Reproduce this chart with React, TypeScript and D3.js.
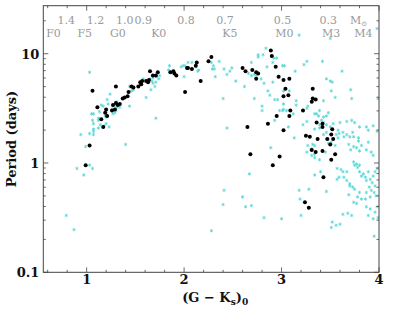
import React from "react";
import * as d3 from "d3";

// (G-Ks)_0 colour, log10 period in days
const blackStars: [number, number][] = [
  [0.99, -0.02], [1.03, 0.16], [1.06, 0.66], [1.11, 0.51], [1.15, 0.4], [1.17, 0.33],
  [1.19, 0.46], [1.2, 0.49], [1.21, 0.43], [1.26, 0.48], [1.27, 0.53], [1.29, 0.49],
  [1.3, 0.55], [1.3, 0.7], [1.32, 0.53], [1.34, 0.54], [1.37, 0.59], [1.39, 0.6],
  [1.42, 0.61], [1.43, 0.65], [1.46, 0.7], [1.48, 0.69], [1.53, 0.7], [1.55, 0.74],
  [1.56, 0.72], [1.57, 0.75], [1.61, 0.75], [1.63, 0.74], [1.64, 0.76], [1.65, 0.84],
  [1.68, 0.8], [1.71, 0.8], [1.73, 0.83], [1.86, 0.83], [1.89, 0.84], [1.9, 0.82],
  [1.92, 0.8], [2.01, 0.65], [2.03, 0.87], [2.04, 0.87], [2.08, 0.86], [2.12, 0.89],
  [2.13, 0.92], [2.17, 0.75], [2.25, 0.93], [2.28, 0.97], [2.6, 0.87], [2.63, 0.84],
  [2.65, 0.33], [2.68, 0.08], [2.7, 0.85], [2.74, 0.83], [2.76, 0.82], [2.74, 0.77],
  [2.86, 0.36], [2.89, 1.03], [2.9, 0.98], [2.91, -0.02], [2.94, 0.88], [2.95, 0.43],
  [2.97, 0.79], [2.98, 0.06], [3.02, 0.3], [3.02, 0.76], [3.08, 0.77], [3.04, 0.68],
  [3.02, 0.61], [3.07, 0.62], [3.08, 0.43], [3.09, 0.48], [3.22, 0.48], [3.32, 0.68],
  [3.32, 0.59], [3.35, 0.58], [3.31, 0.56], [3.36, 0.37], [3.42, 0.36], [3.42, 0.33],
  [3.52, 0.31], [3.25, 0.25], [3.29, 0.24], [3.37, 0.22], [3.47, 0.22], [3.51, 0.26],
  [3.53, 0.22], [3.5, 0.17], [3.31, 0.12], [3.35, 0.1], [3.42, 0.11], [3.55, 0.08],
  [3.51, 0.03], [3.43, -0.13], [3.24, -0.36], [3.28, -0.41],
];

const cyanStars: [number, number][] = [
  [0.79, -0.48], [0.87, -0.61], [0.9, -0.05], [0.97, -0.11], [1.03, -0.02], [1.06, -0.05],
  [0.94, 0.26], [0.99, 0.15], [1.03, 0.27], [1.07, 0.26], [1.07, 0.31], [1.03, 0.83],
  [1.05, 0.45], [1.12, 0.41], [1.07, 0.36], [1.14, 0.35], [1.07, 0.45], [1.06, 0.39],
  [1.12, 0.39], [1.13, 0.47], [1.12, 0.32], [1.18, 0.34], [1.2, 0.36], [1.23, 0.33],
  [1.07, 0.29], [1.15, 0.53], [1.17, 0.52], [1.2, 0.46], [1.19, 0.43], [1.2, 0.42],
  [1.21, 0.58], [1.22, 0.54], [1.24, 0.63], [1.26, 0.49], [1.31, 0.56], [1.29, 0.53],
  [1.31, 0.51], [1.34, 0.51], [1.3, 0.48], [1.27, 0.45], [1.29, 0.46], [1.27, 0.52],
  [1.44, 0.52], [1.4, 0.17], [1.44, 0.7], [1.48, 0.67], [1.46, 0.66], [1.56, 0.74],
  [1.58, 0.77], [1.61, 0.6], [1.66, 0.67], [1.65, 0.77], [1.67, 0.75], [1.68, 0.78],
  [1.71, 0.74], [1.68, 0.73], [1.72, 0.79], [1.74, 0.77], [1.75, 0.8], [1.7, 0.7],
  [1.71, 0.41], [1.85, 0.89], [1.84, 0.85], [1.85, 0.83], [1.97, 0.88], [1.99, 0.89],
  [2.04, 0.92], [2.08, 0.92], [2.12, 0.88], [2.14, 0.84], [2.0, 0.79], [2.01, 0.89],
  [2.15, 0.85], [2.28, 0.92], [2.3, 0.89], [2.29, 0.86], [2.31, 0.86], [2.36, 0.93],
  [2.41, 0.86], [2.44, 0.81], [2.32, 0.79], [2.4, 0.59], [2.44, 0.32], [2.49, 0.87],
  [2.47, 0.84], [2.53, 0.75], [2.62, 0.7], [2.69, 0.92], [2.66, 0.82], [2.69, 0.8],
  [2.72, 0.81], [2.74, 0.8], [2.76, 0.99], [2.81, 0.99], [2.76, 0.97], [2.84, 1.05],
  [2.92, 0.96], [2.95, 0.96], [2.91, 0.92], [2.85, 0.88], [3.01, 0.89], [3.03, 0.89],
  [3.26, 0.93], [3.23, 0.9], [3.42, 0.93], [2.79, 0.77], [2.82, 0.73], [2.91, 0.74],
  [3.14, 0.84], [3.46, 0.77], [3.5, 0.75], [3.02, 0.66], [3.08, 0.66], [2.86, 0.66],
  [2.88, 0.62], [2.72, 0.59], [2.93, 0.58], [2.96, 0.58], [3.15, 0.57], [3.43, 0.57],
  [3.51, 0.66], [3.55, 0.6], [3.71, 0.67], [3.72, 0.59], [3.99, 0.59], [3.02, 0.54],
  [3.15, 0.53], [2.8, 0.52], [2.8, 0.48], [2.98, 0.48], [3.01, 0.48], [3.02, 0.49],
  [3.05, 0.48], [3.12, 0.45], [2.93, 0.39], [3.27, 0.52], [3.26, 0.5], [3.39, 0.48],
  [3.34, 0.45], [3.36, 0.45], [3.38, 0.43], [3.43, 0.42], [3.41, 0.39], [3.43, 0.37],
  [3.48, 0.46], [3.46, 0.43], [3.26, 0.38], [3.22, 0.35], [3.39, 0.35], [3.39, 0.32],
  [3.34, 0.31], [3.46, 0.35], [3.5, 0.33], [3.53, 0.36], [3.07, 0.33], [3.46, 0.28],
  [3.43, 0.26], [3.46, 0.22], [3.48, 0.18], [3.51, 0.19], [3.55, 0.16], [3.58, 0.23],
  [3.56, 0.26], [3.13, 0.23], [3.32, 0.17], [2.89, 0.14], [3.45, 0.1], [3.34, 0.08],
  [3.3, 0.12], [3.18, 1.17], [3.5, 1.14], [3.98, 1.23], [3.62, 0.84], [3.52, 0.74],
  [3.6, 0.37], [3.67, 0.38], [3.72, 0.39], [3.75, 0.37], [3.8, 0.33], [3.87, 0.33],
  [3.89, 0.3], [3.94, 0.34], [3.98, 0.29], [3.58, 0.3], [3.59, 0.27], [3.63, 0.28],
  [3.67, 0.26], [3.64, 0.24], [3.7, 0.24], [3.73, 0.28], [3.74, 0.24], [3.79, 0.23],
  [3.79, 0.2], [3.69, 0.17], [3.74, 0.15], [3.71, 0.12], [3.77, 0.14], [3.8, 0.11],
  [3.82, 0.16], [3.87, 0.12], [3.89, 0.19], [3.92, 0.1], [3.94, 0.07], [3.26, 0.1],
  [3.31, 0.07], [3.34, 0.05], [3.39, 0.03], [3.27, 0.16], [3.57, -0.05], [3.61, -0.06],
  [3.63, -0.08], [3.67, -0.08], [3.74, 0.01], [3.75, -0.02], [3.77, -0.01], [3.78, -0.04],
  [3.8, -0.02], [3.8, -0.08], [3.82, -0.12], [3.84, -0.1], [3.86, -0.13], [3.89, -0.08],
  [3.87, -0.16], [3.91, -0.15], [3.94, -0.12], [3.96, -0.08], [3.98, -0.05], [3.93, -0.18],
  [3.96, -0.21], [3.9, -0.22], [3.92, -0.25], [3.95, -0.27], [3.97, -0.3], [3.91, -0.31],
  [3.87, -0.27], [3.7, -0.21], [3.73, -0.22], [3.75, -0.24], [3.69, -0.29], [3.8, -0.27],
  [3.78, -0.31], [3.82, -0.33], [3.86, -0.33], [3.4, -0.08], [3.46, -0.26], [3.28, -0.24],
  [3.19, -0.33], [3.87, -0.4], [3.91, -0.42], [3.98, -0.4], [3.96, -0.45], [3.89, -0.48],
  [3.63, -0.47], [3.68, -0.46], [3.72, -0.48], [3.6, -0.56], [3.56, -0.57], [3.51, -0.59],
  [3.74, -0.36], [3.77, -0.37], [3.94, -0.51], [3.99, -0.5], [3.95, -0.67], [2.28, -0.62],
  [2.41, -0.25], [2.4, -0.38], [2.6, -0.31], [2.63, -0.4], [2.69, -0.39], [2.67, -0.1],
  [2.82, -0.5], [3.0, -0.51], [3.18, -0.25], [3.2, -0.48], [3.34, -0.11], [3.52, -0.54],
  [3.57, -0.15], [3.59, -0.13], [3.64, -0.13], [3.67, -0.16], [3.7, -0.19], [3.34, 0.16],
  [3.31, 0.13],
];

const xTicks = [1, 2, 3, 4];
const yTicks = [0.1, 1, 10];
const yTickLabels = ["0.1", "1", "10"];
const massLabels = ["1.4", "1.2", "1.0", "0.9", "0.8", "0.7", "0.5", "0.3"];
const massAt = [0.79, 1.09, 1.39, 1.58, 2.02, 2.42, 3.01, 3.48];
const sptLabels = ["F0", "F5", "G0", "K0", "K5", "M0", "M3", "M4"];
const sptAt = [0.66, 0.98, 1.32, 1.74, 2.47, 3.03, 3.51, 3.84];

const W = 399;
const H = 310;
const left = 43.3, right = 379, top = 5.7, bottom = 272.3;

export default function App() {
  const x = d3.scaleLinear().domain([0.555, 4]).range([left, right]);
  const y = d3.scaleLog().domain([0.1, 27.5]).range([bottom, top]);

  const minorX = d3.range(0.6, 3.99, 0.2).filter((v) => Math.abs(v - Math.round(v)) > 0.01);
  const minorY: number[] = [];
  [0.1, 1, 10].forEach((d) => {
    for (let k = 2; k <= 9; k++) if (d * k < 27.5) minorY.push(d * k);
  });

  const star = d3.symbol(d3.symbolAsterisk, 8)() as string;
  const serif = "'DejaVu Serif', serif";
  const frame = "#444";

  return (
    <svg width={W} height={H} style={{ position: "fixed", left: 0, top: 0, background: "#fff" }}>
      <g>
        {cyanStars.map((d, i) => (
          <path key={"c" + i} d={star} transform={`translate(${x(d[0])},${y(10 ** d[1])})`}
            fill="none" stroke="#55d5d5" strokeWidth={0.8} />
        ))}
        {blackStars.map((d, i) => (
          <circle key={"b" + i} cx={x(d[0])} cy={y(10 ** d[1])} r={2} fill="#000" />
        ))}
      </g>

      <rect x={left} y={top} width={right - left} height={bottom - top} fill="none" stroke={frame} strokeWidth={1} />

      <g stroke={frame} strokeWidth={0.8}>
        {xTicks.map((t) => (
          <g key={"xt" + t}>
            <line x1={x(t)} x2={x(t)} y1={bottom} y2={bottom - 5} />
            <line x1={x(t)} x2={x(t)} y1={top} y2={top + 5} />
          </g>
        ))}
        {minorX.map((t) => (
          <g key={"xm" + t}>
            <line x1={x(t)} x2={x(t)} y1={bottom} y2={bottom - 2.5} />
            <line x1={x(t)} x2={x(t)} y1={top} y2={top + 2.5} />
          </g>
        ))}
        {yTicks.map((t) => (
          <g key={"yt" + t}>
            <line x1={left} x2={left + 5} y1={y(t)} y2={y(t)} />
            <line x1={right} x2={right - 5} y1={y(t)} y2={y(t)} />
          </g>
        ))}
        {minorY.map((t) => (
          <g key={"ym" + t}>
            <line x1={left} x2={left + 2.5} y1={y(t)} y2={y(t)} />
            <line x1={right} x2={right - 2.5} y1={y(t)} y2={y(t)} />
          </g>
        ))}
      </g>

      <g fontFamily={serif} fontWeight="bold" fontSize={13} fill="#111">
        {xTicks.map((t) => (
          <text key={"xl" + t} x={x(t)} y={bottom + 12} textAnchor="middle">{t}</text>
        ))}
        {yTicks.map((t, i) => (
          <text key={"yl" + t} x={left - 4} y={y(t) + 5} textAnchor="end">{yTickLabels[i]}</text>
        ))}
        <text x={(left + right) / 2 + 4} y={302} textAnchor="middle">
          (G − K<tspan fontSize={9} dy={3}>s</tspan><tspan dy={-3}>)</tspan><tspan fontSize={9} dy={3}>0</tspan>
        </text>
        <text transform={`translate(16,${(top + bottom) / 2}) rotate(-90)`} textAnchor="middle">
          Period (days)
        </text>
      </g>

      <g fontFamily={serif} fontSize={11} fill="#9a9a9a">
        {massLabels.map((m, i) => (
          <text key={"m" + m} x={x(massAt[i])} y={24} textAnchor="middle">{m}</text>
        ))}
        <text x={x(3.79)} y={24} textAnchor="middle">
          M<tspan fontSize={7} dy={1.5}>⊙</tspan>
        </text>
        {sptLabels.map((s, i) => (
          <text key={"s" + s} x={x(sptAt[i])} y={36.7} textAnchor="middle">{s}</text>
        ))}
      </g>
    </svg>
  );
}
